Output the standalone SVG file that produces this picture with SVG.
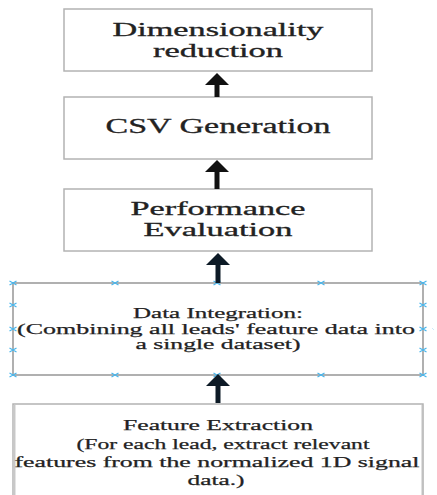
<svg xmlns="http://www.w3.org/2000/svg" width="437" height="495" viewBox="0 0 437 495">
<style>
.box{fill:#fff;stroke:#b3b3b3;stroke-width:1.5}
.box4{fill:#fff;stroke:#b0b0b0;stroke-width:2}
.t{font-family:'Liberation Serif','Times New Roman',serif;fill:#222;stroke:#222;stroke-width:0.3;text-anchor:middle}
.big{font-size:18px}
.csv{font-size:20px}
.sm{font-size:15px;stroke-width:0.25}
.arr{stroke:#111;stroke-width:5;fill:none}
.arr2{stroke:#0d1a26;stroke-width:5;fill:none}
.hx{stroke:#49b6ec;stroke-width:1.2;fill:none}
</style>
<defs>
<marker id="ah" markerUnits="userSpaceOnUse" markerWidth="13" markerHeight="25" refX="0" refY="12" orient="auto" viewBox="0 0 13 25">
<path d="M0,0 L12,12 L0,24 Z" fill="#111"/>
</marker>
<marker id="ah2" markerUnits="userSpaceOnUse" markerWidth="13" markerHeight="25" refX="0" refY="12" orient="auto" viewBox="0 0 13 25">
<path d="M0,0 L12,12 L0,24 Z" fill="#0d1a26"/>
</marker>
<path id="hx" d="M-3.5,-2 L3.5,2 M-3.5,2 L3.5,-2"/>
</defs>
<rect width="437" height="495" fill="#fff"/>

<g id="dimensionality-reduction">
<rect class="box" x="64" y="9" width="308" height="62"/>
<text class="t big" x="218" y="36" textLength="211" lengthAdjust="spacingAndGlyphs">Dimensionality</text>
<text class="t big" x="218" y="57" textLength="130" lengthAdjust="spacingAndGlyphs">reduction</text>
</g>

<g id="csv-generation">
<rect class="box" x="64" y="97" width="308" height="62"/>
<text class="t csv" x="218" y="133" textLength="225" lengthAdjust="spacingAndGlyphs">CSV Generation</text>
</g>

<g id="performance-evaluation">
<rect class="box" x="64" y="189" width="308" height="62"/>
<text class="t big" x="218" y="215" textLength="175" lengthAdjust="spacingAndGlyphs">Performance</text>
<text class="t big" x="218" y="236" textLength="149" lengthAdjust="spacingAndGlyphs">Evaluation</text>
</g>

<g id="data-integration">
<rect class="box4" x="13" y="283" width="410" height="92"/>
<text class="t sm" x="218" y="318" textLength="170" lengthAdjust="spacingAndGlyphs">Data Integration:</text>
<text class="t sm" x="216" y="333.5" textLength="398" lengthAdjust="spacingAndGlyphs">(Combining all leads' feature data into</text>
<text class="t sm" x="218" y="349" textLength="165" lengthAdjust="spacingAndGlyphs">a single dataset)</text>
<g class="hx">
<use href="#hx" x="13" y="283"/><use href="#hx" x="115" y="283"/><use href="#hx" x="217" y="283"/><use href="#hx" x="321" y="283"/><use href="#hx" x="423" y="283"/>
<use href="#hx" x="13" y="375"/><use href="#hx" x="115" y="375"/><use href="#hx" x="217" y="375"/><use href="#hx" x="321" y="375"/><use href="#hx" x="423" y="375"/>
<use href="#hx" x="13" y="305"/><use href="#hx" x="13" y="329"/><use href="#hx" x="13" y="350"/>
<use href="#hx" x="423" y="305"/><use href="#hx" x="423" y="329"/><use href="#hx" x="423" y="350"/>
</g>
<path d="M432,328 L434,330" stroke="#cde9f7" stroke-width="1"/>
</g>

<g id="feature-extraction">
<rect x="13" y="404" width="410" height="100" fill="#fff" stroke="#b3b3b3" stroke-width="1.5"/>
<line x1="14" y1="405" x2="14" y2="495" stroke="#c8c8c8" stroke-width="3"/>
<line x1="422.5" y1="405" x2="422.5" y2="495" stroke="#c0c0c0" stroke-width="2"/>
<text class="t sm" x="218" y="430" textLength="190" lengthAdjust="spacingAndGlyphs">Feature Extraction</text>
<text class="t sm" x="223" y="448.5" textLength="293" lengthAdjust="spacingAndGlyphs">(For each lead, extract relevant</text>
<text class="t sm" x="217" y="466.5" textLength="405" lengthAdjust="spacingAndGlyphs">features from the normalized 1D signal</text>
<text class="t sm" x="216" y="484.5" textLength="57" lengthAdjust="spacingAndGlyphs">data.)</text>
</g>

<g id="connectors">
<line class="arr" x1="217" y1="97" x2="217" y2="85" marker-end="url(#ah)"/>
<line class="arr" x1="217" y1="189" x2="217" y2="172" marker-end="url(#ah)"/>
<line class="arr2" x1="218" y1="283" x2="218" y2="265" marker-end="url(#ah2)"/>
<line class="arr2" x1="218" y1="403" x2="218" y2="386" marker-end="url(#ah2)"/>
</g>
</svg>
